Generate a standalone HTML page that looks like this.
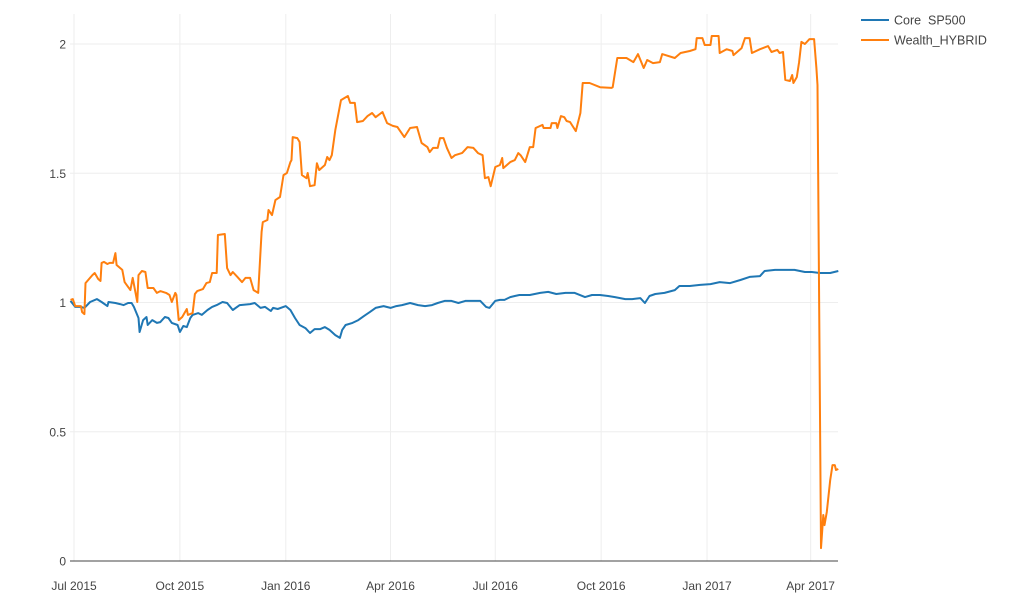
<!DOCTYPE html>
<html><head><meta charset="utf-8"><style>
body{margin:0;background:#fff;}
svg{display:block;font-family:"Liberation Sans",sans-serif;}
</style></head><body>
<svg id="chart" width="1012" height="615">
<g id="grid"></g>
<g id="axes"></g>
<g id="series"></g>
<g id="legend">
<g>
<line x1="861" y1="20" x2="889" y2="20" stroke="#1f77b4" stroke-width="2"/>
<text x="894" y="24.5" font-size="12.5" fill="#444" style="white-space:pre">Core &#160;SP500</text></g>
<g>
<line x1="861" y1="40" x2="889" y2="40" stroke="#ff7f0e" stroke-width="2"/>
<text x="894" y="44.5" font-size="12.5" fill="#444">Wealth_HYBRID</text></g>
</g>
</svg>
<script>
// days since 2015-07-01
const coreDays=[-3,1,6,9,14,20,24,29,30,36,40,43,47,50,52,56,57,60,63,64,68,72,75,79,82,85,90,92,95,98,101,103,108,111,116,120,124,129,133,138,144,153,157,162,166,171,173,177,184,188,192,196,201,205,209,214,218,222,227,231,233,236,242,247,252,257,262,269,275,280,285,292,299,305,311,316,322,328,334,340,346,353,358,361,366,370,374,379,383,387,396,405,412,419,427,435,444,450,457,464,470,479,485,492,496,500,505,513,522,526,535,544,553,561,570,579,587,596,600,609,618,626,635,641,648,657,664];
const coreValues=[1.006,0.983,0.983,0.979,1.002,1.013,1.002,0.986,1.002,0.998,0.994,0.990,0.998,0.998,0.983,0.940,0.886,0.932,0.944,0.913,0.932,0.921,0.924,0.944,0.940,0.921,0.913,0.886,0.909,0.905,0.940,0.952,0.959,0.952,0.971,0.983,0.990,1.002,0.998,0.971,0.990,0.994,0.998,0.979,0.983,0.967,0.979,0.975,0.986,0.971,0.940,0.913,0.901,0.882,0.897,0.897,0.905,0.894,0.874,0.863,0.894,0.913,0.921,0.932,0.948,0.963,0.979,0.986,0.979,0.986,0.990,0.998,0.990,0.986,0.990,0.998,1.006,1.006,0.998,1.006,1.006,1.006,0.983,0.979,1.006,1.010,1.010,1.021,1.025,1.029,1.029,1.037,1.041,1.033,1.037,1.037,1.021,1.029,1.029,1.025,1.021,1.013,1.013,1.017,0.998,1.025,1.033,1.037,1.048,1.064,1.064,1.068,1.071,1.079,1.075,1.087,1.099,1.102,1.122,1.126,1.126,1.126,1.118,1.118,1.114,1.114,1.122];
const hybridDays=[-3,-1,1,6,7,9,10,16,18,21,23,24,26,29,31,34,36,37,42,44,49,51,55,56,59,62,64,69,72,75,80,83,85,88,89,91,94,98,99,103,105,107,112,115,118,120,124,125,131,133,136,138,142,146,149,153,156,160,163,164,168,169,172,175,179,182,185,188,189,190,194,196,198,202,203,205,209,211,213,218,220,222,224,227,232,235,238,240,244,246,251,255,259,262,268,272,277,281,287,292,298,302,307,309,312,316,318,321,324,328,331,337,338,342,347,351,355,357,360,362,366,370,372,373,379,383,386,388,392,396,399,401,407,408,414,415,419,420,423,426,428,431,436,440,442,448,457,467,468,472,474,480,486,490,495,498,503,509,511,522,527,535,540,541,546,548,553,554,560,561,567,572,573,580,583,587,589,596,603,606,611,613,616,618,622,624,625,628,630,632,635,639,643,645,646,649,651,652,654,657,659,661,662,664];
const hybridValues=[1.010,1.013,0.986,0.986,0.963,0.955,1.075,1.106,1.114,1.091,1.083,1.153,1.157,1.149,1.153,1.153,1.191,1.145,1.126,1.079,1.048,1.095,1.002,1.106,1.122,1.118,1.056,1.056,1.037,1.044,1.037,1.029,1.002,1.037,1.029,0.932,0.944,0.975,0.952,0.959,1.033,1.044,1.052,1.075,1.079,1.114,1.114,1.261,1.265,1.133,1.106,1.118,1.099,1.079,1.095,1.095,1.048,1.037,1.273,1.311,1.319,1.358,1.338,1.396,1.408,1.493,1.501,1.543,1.551,1.640,1.636,1.621,1.493,1.481,1.501,1.450,1.454,1.539,1.512,1.532,1.563,1.551,1.570,1.667,1.783,1.791,1.799,1.772,1.772,1.698,1.702,1.721,1.733,1.717,1.737,1.694,1.683,1.679,1.640,1.675,1.679,1.617,1.601,1.582,1.598,1.598,1.636,1.636,1.598,1.559,1.570,1.578,1.582,1.601,1.598,1.578,1.570,1.481,1.485,1.450,1.524,1.532,1.559,1.520,1.543,1.551,1.578,1.570,1.543,1.601,1.601,1.675,1.687,1.675,1.675,1.694,1.694,1.675,1.721,1.717,1.702,1.698,1.663,1.733,1.849,1.849,1.833,1.830,1.833,1.946,1.946,1.946,1.930,1.961,1.907,1.938,1.926,1.930,1.961,1.946,1.965,1.973,1.980,2.023,2.023,1.996,1.996,2.031,2.031,1.965,1.980,1.973,1.957,1.984,2.023,2.023,1.965,1.980,1.992,1.969,1.977,1.965,1.969,1.861,1.857,1.880,1.849,1.872,1.930,2.008,2.000,2.019,2.019,1.907,1.841,0.050,0.178,0.139,0.190,0.313,0.371,0.371,0.352,0.356];
const yTicks=[0,0.5,1,1.5,2];
const yTickLabels=["0","0.5","1","1.5","2"];
const xTickDays=[0,92,184,275,366,458,550,640];
const xTickLabels=["Jul 2015","Oct 2015","Jan 2016","Apr 2016","Jul 2016","Oct 2016","Jan 2017","Apr 2017"];

const NS="http://www.w3.org/2000/svg";
const X0=70,X1=838;
function xs(d){return 74+d*1.151;}
function ys(v){return 561-v*258.5;}
function mk(tag,attrs,parent){const e=document.createElementNS(NS,tag);for(const k in attrs)e.setAttribute(k,attrs[k]);parent.appendChild(e);return e;}
const grid=document.getElementById('grid'),axes=document.getElementById('axes'),series=document.getElementById('series');
yTicks.forEach((v,i)=>{
  if(v!==0){const l=mk('line',{x1:X0,x2:X1,y1:ys(v),y2:ys(v),stroke:'#eee','stroke-width':1},grid);
  
  }
  const t=mk('text',{x:66,y:ys(v)+4.5,'text-anchor':'end','font-size':12,fill:'#444'},axes);
  t.textContent=yTickLabels[i];
  
  
});
xTickDays.forEach((d,i)=>{
  const l=mk('line',{x1:xs(d),x2:xs(d),y1:14,y2:561,stroke:'#eee','stroke-width':1},grid);
  
  
  const t=mk('text',{x:xs(d),y:590,'text-anchor':'middle','font-size':12,fill:'#444'},axes);
  t.textContent=xTickLabels[i];
  
  
});
const zl=mk('line',{x1:X0,x2:X1,y1:ys(0),y2:ys(0),stroke:'#444','stroke-width':1},axes);


function drawLine(days,vals,color,name){
  const d=days.map((x,i)=>(i?'L':'M')+xs(x).toFixed(1)+','+ys(vals[i]).toFixed(1)).join('');
  const p=mk('path',{d:d,fill:'none',stroke:color,'stroke-width':2,'stroke-linejoin':'round'},series);
  
  
}
drawLine(coreDays,coreValues,'#1f77b4','core-sp500-line');
drawLine(hybridDays,hybridValues,'#ff7f0e','wealth-hybrid-line');
</script>
</body></html>
